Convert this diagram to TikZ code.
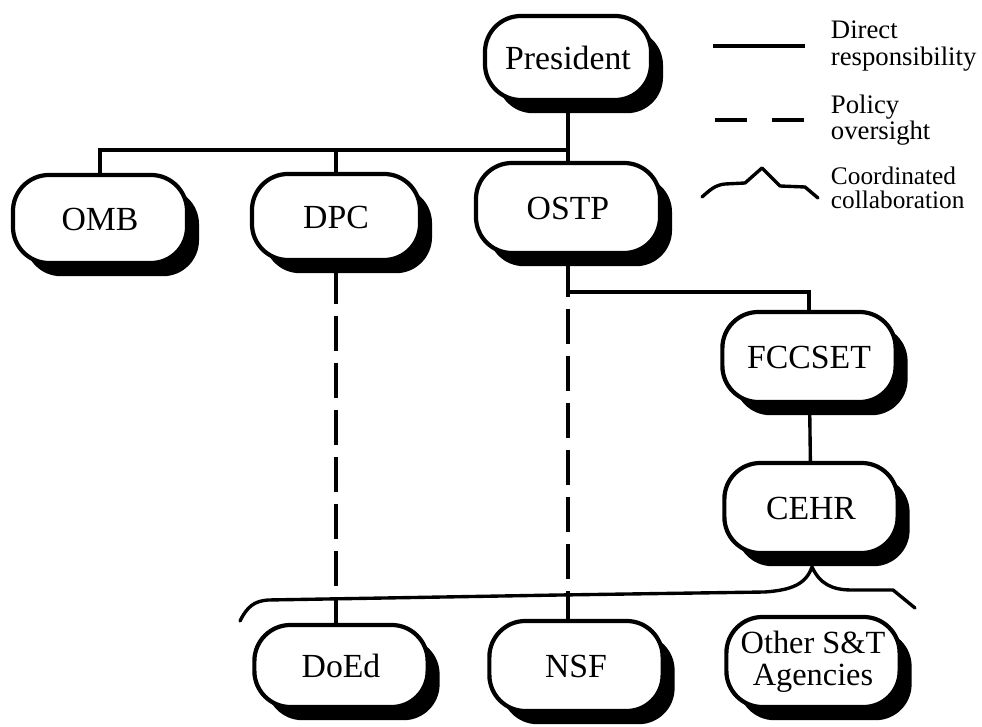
\documentclass[tikz,border=0pt]{standalone}
\usepackage{fontspec}
\setmainfont{Liberation Serif}
\usetikzlibrary{shadows, positioning}

\begin{document}
\begin{tikzpicture}[
  x=0.025cm, y=-0.025cm,
  unitbox/.style={draw, line width=3pt, fill=white, rounded corners=0.9cm, minimum width=4.33cm, minimum height=2.25cm, inner sep=2pt, align=center, font=\fontsize{24}{20}\selectfont, drop shadow={shadow xshift=0.3cm, shadow yshift=-0.33cm, fill=black, opacity=1}},
  direct/.style={line width=2.4pt},
  oversight/.style={line width=2.4pt, dash pattern=on 25pt off 8.5pt, dash phase=29pt},
  collab/.style={line width=2.4pt, line join=round, line cap=round},
  keytext/.style={anchor=west, align=left, font=\fontsize{19}{19}\selectfont}
]
\useasboundingbox (0,0) rectangle (982,727);

% Top of the chart
\node[unitbox, minimum width=4.15cm, minimum height=2.1cm] (pres) at (568,58) {President};

% Executive office units
\node[unitbox, minimum width=4.35cm, minimum height=2.2cm] (omb) at (100,219) {OMB};
\node[unitbox, minimum width=4.2cm, minimum height=2.15cm] (dpc) at (336,217) {DPC};
\node[unitbox, minimum width=4.6cm] (ostp) at (568,208) {OSTP};

% Council and committee
\node[unitbox] (fccset) at (809,357) {FCCSET};
\node[unitbox] (cehr) at (811,508) {CEHR};

% Agencies
\node[unitbox, minimum height=2.05cm] (doed) at (341,666) {DoEd};
\node[unitbox] (nsf) at (576,666) {NSF};
\node[unitbox, font=\fontsize{23}{23}\selectfont] (other) at (813,662) {Other S\&T\\Agencies};

% Direct responsibility
\coordinate (bus) at (0,150);
\coordinate (turn) at (0,292);
\draw[direct] (pres.south) -- (pres.south |- bus) -| (omb.north);
\draw[direct] (dpc.north) -- (dpc.north |- bus);
\draw[direct] (ostp.north) -- (ostp.north |- bus);
\draw[direct] (ostp.south) -- (ostp.south |- turn) -| (fccset.north);
\draw[direct] (fccset) -- (cehr);

% Policy oversight
\draw[oversight] (dpc.south) -- (dpc.south |- doed.north);
\draw[oversight] (ostp.south) -- (ostp.south |- nsf.north);

% Coordinated collaboration
\draw[collab] (240,621) .. controls (247,607) and (254,601) .. (268,600) -- (560,595) -- (765,592)
  .. controls (792,590) and (806,584) .. (812,567)
  .. controls (820,584) and (832,590) .. (852,590) -- (893,590) -- (915,608);

% Key
\coordinate (k1a) at (713,46);
\coordinate (k1b) at (805,46);
\draw[direct] (k1a) -- (k1b);
\node[keytext] (k1) at (826,46) {Direct\\responsibility};

\coordinate (k2a) at (715,120);
\coordinate (k2b) at (805,120);
\draw[line width=2.4pt, dash pattern=on 22.5pt off 18pt] (k2a) -- (k2b);
\node[keytext] (k2) at (826,120) {Policy\\oversight};

\draw[collab] (702,197) .. controls (710,190) and (715,185) .. (725,184) -- (745,183) -- (762,168) -- (780,186) -- (805,187) -- (818,198);
\node[keytext, font=\fontsize{18}{17}\selectfont] (k3) at (826,188) {Coordinated\\collaboration};

\end{tikzpicture}
\end{document}
